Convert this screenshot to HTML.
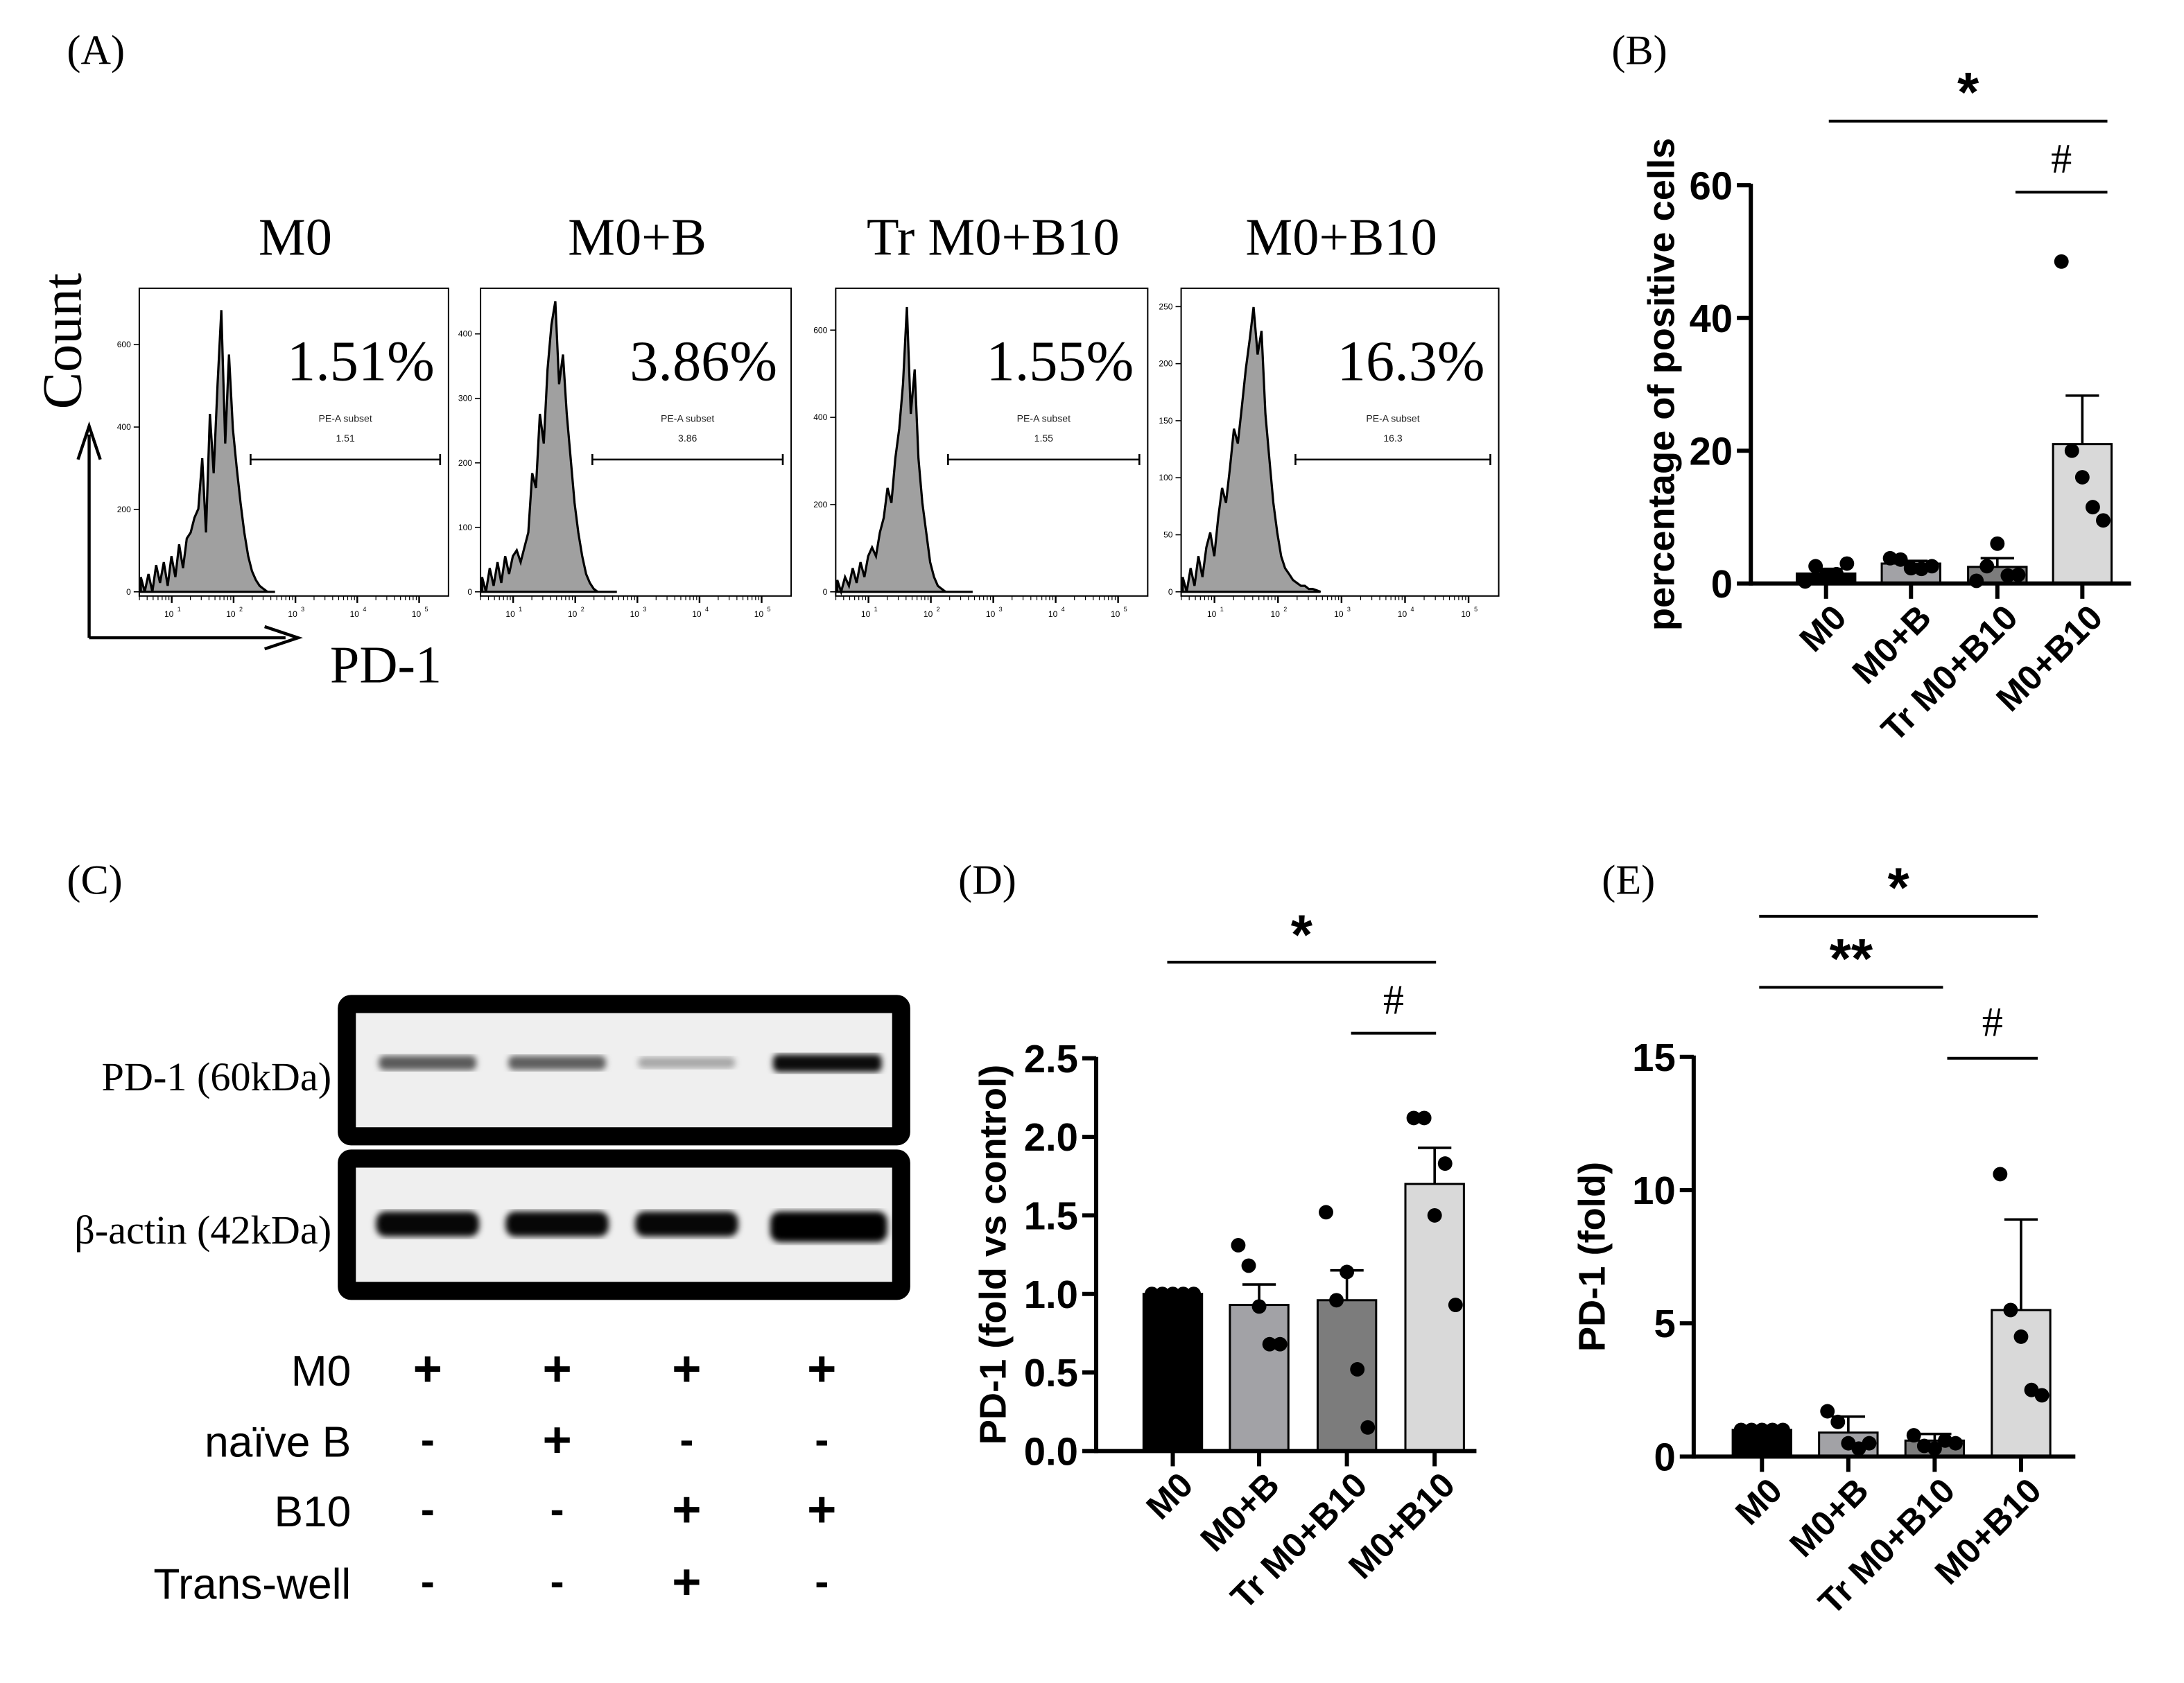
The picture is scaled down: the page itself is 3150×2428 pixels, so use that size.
<!DOCTYPE html>
<html><head><meta charset="utf-8">
<style>
html,body{margin:0;padding:0;background:#fff;}
svg{display:block;}
.serif{font-family:"Liberation Serif",serif;}
.sans{font-family:"Liberation Sans",sans-serif;}
</style></head>
<body>
<svg id="fig" width="3150" height="2428" viewBox="0 0 1568 1208.6" xmlns="http://www.w3.org/2000/svg">
<defs>
<filter id="blur2"><feGaussianBlur stdDeviation="2.2"/></filter>
</defs>
<g id="panelA"></g>
<g id="panelB"></g>
<g id="panelC"></g>
<g id="panelD"></g>
<g id="panelE"></g>
</svg>
<script>
// ---------- Data ----------
const categories = ["M0","M0+B","Tr M0+B10","M0+B10"];
const barColors = ["#000000","#a2a2a6","#7c7c7c","#d9d9d9"];
// Panel B
const bMeans = [1.5, 3.0, 2.5, 21.0];
const bErr = [2.2, 3.4, 3.8, 28.3];
const bPoints = [[0.3,2.6,1.2,1.4,3.0],[3.8,3.6,2.3,2.2,2.6],[0.4,2.6,6.0,1.2,1.3],[48.5,20,16,11.5,9.5]];
const bTicks = [0,20,40,60];
// Panel D
const dMeans = [1.0, 0.93, 0.96, 1.70];
const dErr = [1.0, 1.06, 1.15, 1.93];
const dPoints = [[1,1,1,1,1],[1.31,1.18,0.92,0.68,0.68],[1.52,0.96,1.14,0.52,0.15],[2.12,2.12,1.50,1.83,0.93]];
const dTicks = [0,0.5,1.0,1.5,2.0,2.5];
// Panel E
const eMeans = [1.0, 0.9, 0.6, 5.5];
const eErr = [1.0, 1.5, 0.85, 8.9];
const ePoints = [[1,1,1,1,1],[1.7,1.3,0.5,0.3,0.5],[0.8,0.4,0.3,0.6,0.5],[10.6,5.5,4.5,2.5,2.3]];
const eTicks = [0,5,10,15];
// Panel A: flow histograms (counts per log bin, relative to axis height)
const flowTitles = ["M0","M0+B","Tr M0+B10","M0+B10"];
const flowPercents = ["1.51%","3.86%","1.55%","16.3%"];
const flowGateValues = ["1.51","3.86","1.55","16.3"];
const flowYTicks = [[0,200,400,600],[0,100,200,300,400],[0,200,400,600],[0,50,100,150,200,250]];
const flowYMax = [720,460,680,260];
const hist1 = [0.05,0,0.06,0,0.09,0.03,0.1,0.02,0.12,0.05,0.16,0.08,0.18,0.2,0.25,0.28,0.45,0.2,0.6,0.4,0.7,0.95,0.5,0.8,0.55,0.42,0.3,0.2,0.12,0.07,0.04,0.02,0.01,0,0];
const hist2 = [0.05,0,0.08,0.02,0.1,0.03,0.12,0.06,0.12,0.14,0.1,0.15,0.2,0.4,0.35,0.6,0.5,0.75,0.9,0.98,0.7,0.8,0.6,0.45,0.3,0.2,0.12,0.06,0.03,0.01,0,0,0,0,0];
const hist3 = [0.04,0,0.05,0.02,0.08,0.03,0.1,0.05,0.12,0.15,0.12,0.2,0.25,0.35,0.3,0.45,0.55,0.7,0.96,0.6,0.75,0.45,0.3,0.2,0.1,0.05,0.02,0.01,0,0,0,0,0,0,0];
const hist4 = [0.05,0,0.08,0.02,0.12,0.05,0.15,0.2,0.12,0.25,0.35,0.3,0.42,0.55,0.5,0.62,0.75,0.85,0.96,0.8,0.88,0.6,0.45,0.3,0.2,0.12,0.08,0.06,0.04,0.03,0.02,0.02,0.01,0.01,0.005];
const flowHists = [hist1,hist2,hist3,hist4];

const NS = "http://www.w3.org/2000/svg";
function mk(parent, tag, attrs, text){
  const el = document.createElementNS(NS, tag);
  for (const k in attrs) el.setAttribute(k, attrs[k]);
  if (text !== undefined) el.textContent = text;
  parent.appendChild(el);
  return el;
}

// ---------- Panel A ----------
const A = document.getElementById("panelA");
let t = mk(A,"text",{x:48,y:46,class:"serif","font-size":30});
t.textContent="(A)";


const boxes = [[100,322],[345,568],[600,824],[848,1076]];
const boxTop = 207, boxBot = 428;
boxes.forEach((b,i)=>{
  const [x0,x1] = b; const w = x1-x0;
  const g = mk(A,"g",{});
  
  
  const title = mk(g,"text",{x:(x0+x1)/2+1,y:183,class:"serif","font-size":38,"text-anchor":"middle"},flowTitles[i]);
  
  
  const ymax = flowYMax[i];
  const h = flowHists[i];
  const xs = v => x0 + w*(0.105 + 0.2*(v-1));
  const yBase = boxBot - 3;
  const yScale = (boxBot-boxTop-8);
  let d = "M"+xs(0.5)+","+yBase;
  h.forEach((c,k)=>{
    const lv = 0.5 + k*0.062;
    d += " L"+xs(lv).toFixed(1)+","+(yBase - c*yScale).toFixed(1);
  });
  d += " L"+xs(0.5+(h.length)*0.062)+","+yBase+" Z";
  const hp = mk(g,"path",{d:d,fill:"#a0a0a0",stroke:"#000","stroke-width":1.6});
  
  
  const r = mk(g,"rect",{x:x0,y:boxTop,width:w,height:boxBot-boxTop,fill:"none",stroke:"#000","stroke-width":1});
  
  
  flowYTicks[i].forEach(v=>{
    const y = yBase - v/ymax*yScale;
    mk(g,"line",{x1:x0-4,x2:x0,y1:y,y2:y,stroke:"#000","stroke-width":0.8});
    const tl = mk(g,"text",{x:x0-6,y:y+2,"font-size":6,class:"sans","text-anchor":"end"},String(v));
    
    
  });
  for (let e=1;e<=5;e++){
    const x = xs(e);
    mk(g,"line",{x1:x,x2:x,y1:boxBot,y2:boxBot+5,stroke:"#000","stroke-width":1.2});
    const tl = mk(g,"text",{x:x-2,y:boxBot+15,"font-size":6,class:"sans","text-anchor":"middle"},"10");
    
    
    mk(g,"text",{x:x+4,y:boxBot+11,"font-size":4.5,class:"sans"},String(e));
    for(let m=2;m<10;m++){const xm=xs(e-1+Math.log10(m)); if(xm>x0) mk(g,"line",{x1:xm,x2:xm,y1:boxBot,y2:boxBot+3,stroke:"#000","stroke-width":0.6});}
  }
  const pt = mk(g,"text",{x:x1-10,y:273,class:"serif","font-size":41,"text-anchor":"end"},flowPercents[i]);
  
  
  const gx0 = x0 + w*0.36, gx1 = x1-6, gy = 330;
  mk(g,"line",{x1:gx0,x2:gx1,y1:gy,y2:gy,stroke:"#000","stroke-width":1.3});
  mk(g,"line",{x1:gx0,x2:gx0,y1:gy-4,y2:gy+4,stroke:"#000","stroke-width":1.3});
  mk(g,"line",{x1:gx1,x2:gx1,y1:gy-4,y2:gy+4,stroke:"#000","stroke-width":1.3});
  const gt = mk(g,"text",{x:(gx0+gx1)/2,y:303,"font-size":7,class:"sans","text-anchor":"middle",fill:"#222"},"PE-A subset");
  
  
  mk(g,"text",{x:(gx0+gx1)/2,y:317,"font-size":7,class:"sans","text-anchor":"middle",fill:"#222"},flowGateValues[i]);
});
mk(A,"path",{d:"M64,458 L64,312 M56,330 L64,306 L72,330 M64,458 L205,458 M190,450 L214,458 L190,466",stroke:"#000","stroke-width":2.2,fill:"none"});
t = mk(A,"text",{transform:"translate(58,245) rotate(-90)",class:"serif","font-size":40,"text-anchor":"middle"},"Count");


t = mk(A,"text",{x:277,y:490,class:"serif","font-size":38,"text-anchor":"middle"},"PD-1");



// ---------- Bar chart helper ----------
function barChart(root, cfg){
  const {axisX, y0, yTop, vmax, centers, means, errs, points, ticks, tickFmt, yLabel, yLabelX, axisRight} = cfg;
  const yS = v => y0 - (v/vmax)*(y0-yTop);
  const bw = 42;
  const ax = mk(root,"g",{});
  
  
  mk(ax,"line",{x1:axisX,x2:axisX,y1:yTop-1,y2:y0+1.5,stroke:"#000","stroke-width":3});
  ticks.forEach(v=>{
    const y=yS(v);
    mk(ax,"line",{x1:axisX-10,x2:axisX,y1:y,y2:y,stroke:"#000","stroke-width":3});
    const tl = mk(ax,"text",{x:axisX-13,y:y+10,class:"sans","font-size":28,"font-weight":"bold","text-anchor":"end"},tickFmt(v));
    
    
  });
  const yl = mk(root,"text",{transform:`translate(${yLabelX},${(y0+yTop)/2}) rotate(-90)`,class:"sans","font-size":27,"font-weight":"bold","text-anchor":"middle"},yLabel);
  
  
  means.forEach((m,i)=>{
    const cx = centers[i];
    const bar = mk(root,"rect",{x:cx-bw/2,y:yS(m),width:bw,height:y0-yS(m),fill:barColors[i],stroke:"#000","stroke-width":1.5});
    
    
    const eb = mk(root,"path",{d:`M${cx},${yS(m)} L${cx},${yS(errs[i])} M${cx-12},${yS(errs[i])} L${cx+12},${yS(errs[i])}`,stroke:"#000","stroke-width":1.8,fill:"none"});
    
    
    const n = points[i].length;
    points[i].forEach((p,k)=>{
      const px = cx - 15 + k*(30/(n-1));
      const c = mk(root,"circle",{cx:px,cy:yS(p),r:5.2,fill:"#000"});
      
      
    });
  });
  const xa = mk(root,"g",{});
  
  
  mk(xa,"line",{x1:axisX,x2:axisRight,y1:y0,y2:y0,stroke:"#000","stroke-width":3});
  centers.forEach((cx,i)=>{
    mk(xa,"line",{x1:cx,x2:cx,y1:y0,y2:y0+11,stroke:"#000","stroke-width":3});
    const tl = mk(xa,"text",{transform:`translate(${cx+16},${y0+26}) rotate(-45)`,class:"sans","font-size":25,"font-weight":"bold","text-anchor":"end"},categories[i]);
    
    
  });
  return yS;
}
function sig(root, x1, x2, y, label, ly, size){
  const g = mk(root,"g",{});
  
  
  mk(g,"line",{x1:x1,x2:x2,y1:y,y2:y,stroke:"#000","stroke-width":2});
  mk(g,"text",{x:(x1+x2)/2,y:ly,class:label==="#"?"serif":"sans","font-size":size,"font-weight":label==="#"?"normal":"bold","text-anchor":"middle"},label);
}

// ---------- Panel B ----------
const B = document.getElementById("panelB");
t = mk(B,"text",{x:1157,y:46,class:"serif","font-size":30},"(B)");


barChart(B,{axisX:1257,y0:419,yTop:133,vmax:60,centers:[1311,1372,1434,1495],means:bMeans,errs:bErr,points:bPoints,ticks:bTicks,tickFmt:v=>String(v),yLabel:"percentage of positive cells",yLabelX:1202,axisRight:1530});
sig(B,1313,1513,87,"*",80,40);
sig(B,1447,1513,138,"#",124,30);

// ---------- Panel C ----------
const C = document.getElementById("panelC");
t = mk(C,"text",{x:48,y:642,class:"serif","font-size":30},"(C)");


const blot1 = mk(C,"g",{});


mk(blot1,"rect",{x:249,y:721,width:398,height:95,fill:"#efefef",stroke:"#000","stroke-width":13,rx:3});
const blot2 = mk(C,"g",{});


mk(blot2,"rect",{x:249,y:832,width:398,height:95,fill:"#efefef",stroke:"#000","stroke-width":13,rx:3});
const laneX = [307,400,493,590];
const pdBand = [0.62,0.6,0.3,0.95];
const actinBand = [0.97,0.97,0.97,1.0];
laneX.forEach((x,i)=>{
  const b = mk(blot1,"rect",{x:x-35,y:764-4-pdBand[i]*3,width:70+(i===3?8:0),height:6+pdBand[i]*7,rx:4,fill:"#000","fill-opacity":pdBand[i],filter:"url(#blur2)"});
  
  
  const a = mk(blot2,"rect",{x:x-37,y:870,width:74+(i===3?10:0),height:18+(i===3?4:0),rx:7,fill:"#000","fill-opacity":actinBand[i],filter:"url(#blur2)"});
  
  
});
t = mk(C,"text",{x:238,y:783,class:"serif","font-size":29,"text-anchor":"end"},"PD-1 (60kDa)");


t = mk(C,"text",{x:238,y:893,class:"serif","font-size":29,"text-anchor":"end"},"β-actin (42kDa)");


const rowLabels = ["M0","naïve B","B10","Trans-well"];
const rowY = [995,1046,1096,1148];
const signs = [["+","+","+","+"],["-","+","-","-"],["-","-","+","+"],["-","-","+","-"]];
rowLabels.forEach((lab,r)=>{
  const tl = mk(C,"text",{x:252,y:rowY[r],class:"sans","font-size":31,"text-anchor":"end"},lab);
  
  
  signs[r].forEach((s,c)=>{
    const st = mk(C,"text",{x:laneX[c],y:rowY[r]-(s==="+"?0:2),class:"sans","font-size":s==="+"?36:30,"font-weight":"bold","text-anchor":"middle"},s);
    
    
  });
});

// ---------- Panel D ----------
const D = document.getElementById("panelD");
t = mk(D,"text",{x:688,y:642,class:"serif","font-size":30},"(D)");


barChart(D,{axisX:787,y0:1042,yTop:760,vmax:2.5,centers:[842,904,967,1030],means:dMeans,errs:dErr,points:dPoints,ticks:dTicks,tickFmt:v=>v.toFixed(1),yLabel:"PD-1 (fold vs control)",yLabelX:722,axisRight:1060});
sig(D,838,1031,691,"*",685,40);
sig(D,970,1031,742,"#",728,30);

// ---------- Panel E ----------
const E = document.getElementById("panelE");
t = mk(E,"text",{x:1150,y:642,class:"serif","font-size":30},"(E)");


barChart(E,{axisX:1216,y0:1046,yTop:759,vmax:15,centers:[1265,1327,1389,1451],means:eMeans,errs:eErr,points:ePoints,ticks:eTicks,tickFmt:v=>String(v),yLabel:"PD-1 (fold)",yLabelX:1152,axisRight:1490});
sig(E,1263,1463,658,"*",651,40);
sig(E,1263,1395,709,"**",702,40);
sig(E,1398,1463,760,"#",744,30);
</script>
</body></html>
